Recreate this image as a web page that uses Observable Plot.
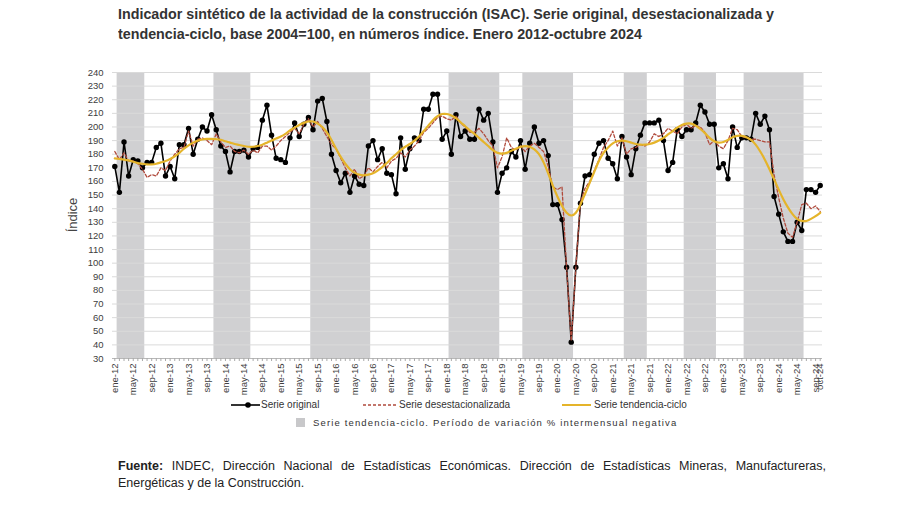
<!DOCTYPE html>
<html><head><meta charset="utf-8">
<script src="https://cdn.jsdelivr.net/npm/d3@7"></script>
<script src="https://cdn.jsdelivr.net/npm/@observablehq/plot@0.6"></script>
<style>
body{margin:0;background:#fff;width:900px;height:505px;position:relative;overflow:hidden;font-family:"Liberation Sans",Arial,sans-serif;color:#333;}
#title{position:absolute;left:118px;top:4px;font-family:"Liberation Sans Narrow","Arial Narrow","Liberation Sans",sans-serif;font-weight:bold;font-size:15.5px;line-height:20px;color:#333;white-space:nowrap;transform-origin:0 0;}
#chart{position:absolute;left:0;top:50px;}
#ylab{position:absolute;left:72px;top:215px;transform:translate(-50%,-50%) rotate(-90deg);font-size:13px;color:#444;white-space:nowrap;}
.lg{position:absolute;font-size:10px;color:#333;white-space:nowrap;line-height:12px;}
.sw{position:absolute;}
.fu{position:absolute;left:118px;width:708px;font-size:12.5px;line-height:17px;color:#222;white-space:nowrap;}
#fu1{top:458px;text-align:justify;text-align-last:justify;}
#fu2{top:475px;}
</style></head><body>
<div id="title"><div id="t1">Indicador sintético de la actividad de la construcción (ISAC). Serie original, desestacionalizada y</div><div id="t2">tendencia-ciclo, base 2004=100, en números índice. Enero 2012-octubre 2024</div></div>
<div id="chart"></div>
<div id="ylab">Índice</div>
<svg class="sw" style="left:231px;top:400px" width="30" height="10"><line x1="0" y1="5" x2="29" y2="5" stroke="#000" stroke-width="1.6"/><circle cx="17" cy="5" r="2.8" fill="#000"/></svg>
<div class="lg" style="left:261px;top:399px">Serie original</div>
<svg class="sw" style="left:363px;top:400px" width="36" height="10"><line x1="0" y1="5" x2="35" y2="5" stroke="#b04a3c" stroke-width="1.3" stroke-dasharray="3,2"/></svg>
<div class="lg" style="left:399px;top:399px">Serie desestacionalizada</div>
<svg class="sw" style="left:562px;top:400px" width="30" height="10"><line x1="0" y1="5" x2="29" y2="5" stroke="#e5b42a" stroke-width="2"/></svg>
<div class="lg" style="left:594px;top:399px">Serie tendencia-ciclo</div>
<div class="sw" style="left:296px;top:418px;width:9px;height:9px;background:#c8c8ca"></div>
<div class="lg" style="left:313px;top:417px;font-size:9.5px;letter-spacing:1.15px">Serie tendencia-ciclo. Período de variación % intermensual negativa</div>
<div class="fu" id="fu1"><b>Fuente:</b> INDEC, Dirección Nacional de Estadísticas Económicas. Dirección de Estadísticas Mineras, Manufactureras,</div>
<div class="fu" id="fu2">Energéticas y de la Construcción.</div>
<script>
const meses = ["ene","feb","mar","abr","may","jun","jul","ago","sep","oct","nov","dic"];
const startYear = 12;

const original = [
171,152,189,164,176,175,170,174,174,185,188,164,
171,162,187,187,199,180,191,200,197,209,198,186,
182,167,182,182,183,178,184,185,205,216,194,177,
176,174,192,203,193,202,207,198,219,221,204,180,
168,159,166,152,164,158,157,186,190,176,184,166,
165,151,192,169,184,192,190,213,213,224,224,191,
197,180,209,193,197,191,191,213,205,210,189,152,
166,170,182,178,190,169,188,200,188,190,179,143,
143,132,97,42,97,144,164,165,180,188,190,177,
173,162,193,178,165,184,194,203,203,203,205,190,
168,174,198,193,198,198,203,216,211,202,202,170,
173,162,200,185,192,192,191,210,202,208,198,149,
136,123,116,116,130,124,154,154,152,157];

const desest = [
182,176,181,175,175,173,169,163,165,164,170,168,
175,180,184,185,197,186,191,192,190,187,195,189,
185,186,182,181,183,180,183,181,186,186,183,186,
190,193,196,199,195,202,206,200,204,199,193,187,
184,177,170,164,169,162,164,170,167,171,174,170,
175,177,181,178,183,186,190,196,199,203,207,208,
206,205,208,203,200,196,196,199,195,190,186,170,
178,192,185,183,186,182,186,188,185,182,171,156,
154,156,96,43,97,145,155,160,168,176,185,190,
197,186,192,180,184,185,187,186,189,195,193,195,
199,197,195,200,202,199,201,200,196,187,190,186,
184,190,199,198,193,192,191,191,190,189,189,165,
148,133,122,119,130,143,144,140,142,138];

const tendencia = [
177,176.5,176,175.5,174.5,173.5,173,172.5,172.5,173,174,175,
176.5,178.5,181,184,186.5,188.5,190,190.8,191.2,191.3,191,190.5,
189.5,188.5,187.5,186.8,186,185.5,185.5,186,187,188.5,190,191.5,
193,195,197.5,199.5,201.5,203,204,204,202.5,200,196,190.5,
184,178,173,169,166.5,165,164.5,165,166,168,170.5,173.5,
177,180,183,185.5,187.5,190,193,197,201,205,208,209.5,
209.5,208.5,206.5,203.5,200.5,197.5,195,192,189,186,183,181,
180.5,181,182.5,184,185.5,186,185.5,183.5,180,174,166,157,
149,142,137,135,137,143,151,159,167,175,181,185,
188,189.5,190,189.5,188.5,187.5,187,187,187.5,188.5,190,192,
194.5,197,199.5,201.5,202.5,202.5,201,198.5,195.5,192,189.5,188.5,
189,190.5,192.5,193.5,193.5,192.5,190.5,187,182,176,169,161.5,
154,147,141,136,132.5,131,131,132.5,134.5,137];

// Periods of negative month-on-month change of the trend-cycle (shaded)
const bandStart = ["feb-12","nov-13","ago-15","feb-18","jun-19","abr-21","may-22","jun-23"];
const bandEnd   = ["jul-12","jun-14","ago-16","dic-18","abr-20","ago-21","nov-22","jun-24"];

const yTicks = d3.range(30, 241, 10);

const label = i => meses[i % 12] + "-" + (startYear + Math.floor(i / 12));
const idx = s => { const [m, y] = s.split("-"); return (+y - startYear) * 12 + meses.indexOf(m); };
const n = original.length;
const xTicks = d3.range(0, n, 4).concat([n - 1]);

const data = original.map((v, i) => ({i, orig: v, sa: desest[i], tc: tendencia[i]}));
const bands = bandStart.map((s, k) => ({x1: idx(s) - 0.5, x2: idx(bandEnd[k]) + 0.5, y1: 30, y2: 240}));

const chart = Plot.plot({
  width: 900, height: 345,
  marginTop: 22, marginBottom: 37, marginLeft: 112, marginRight: 78,
  x: {domain: [-0.5, n - 0.5]},
  y: {domain: [30, 240]},
  style: {fontFamily: "'Liberation Sans', Arial, sans-serif", fontSize: "9.5px", color: "#404040", background: "transparent"},
  marks: [
    Plot.rect(bands, {x1: "x1", x2: "x2", y1: "y1", y2: "y2", fill: "#d0d0d2"}),
    Plot.ruleY(yTicks.slice(1), {stroke: "#dadada", strokeWidth: 1}),
    Plot.ruleY([30], {stroke: "#b8b8b8"}),
    Plot.axisY({ticks: yTicks, tickSize: 0, tickPadding: 9, label: null}),
    Plot.axisX({ticks: d3.range(n), tickSize: 3, tickFormat: () => "", label: null, stroke: "#aaa"}),
    Plot.axisX({ticks: xTicks, tickSize: 0, tickPadding: 5, tickRotate: -90, tickFormat: label, label: null}),
    Plot.line(data, {x: "i", y: "orig", stroke: "#000", strokeWidth: 1.6}),
    Plot.dot(data, {x: "i", y: "orig", r: 2.7, fill: "#000"}),
    Plot.line(data, {x: "i", y: "sa", stroke: "#b04a3c", strokeWidth: 1.3, strokeDasharray: "3,2"}),
    Plot.line(data, {x: "i", y: "tc", stroke: "#e5b42a", strokeWidth: 2.2, curve: "natural"})
  ]
});
document.getElementById("chart").appendChild(chart);

// condense the title to the reference's narrow width
const t1 = document.getElementById("t1");
const w = t1.getBoundingClientRect().width;
const s = Math.min(1, 656 / w);
document.getElementById("title").style.transform = `scaleX(${s})`;
</script>
</body></html>
